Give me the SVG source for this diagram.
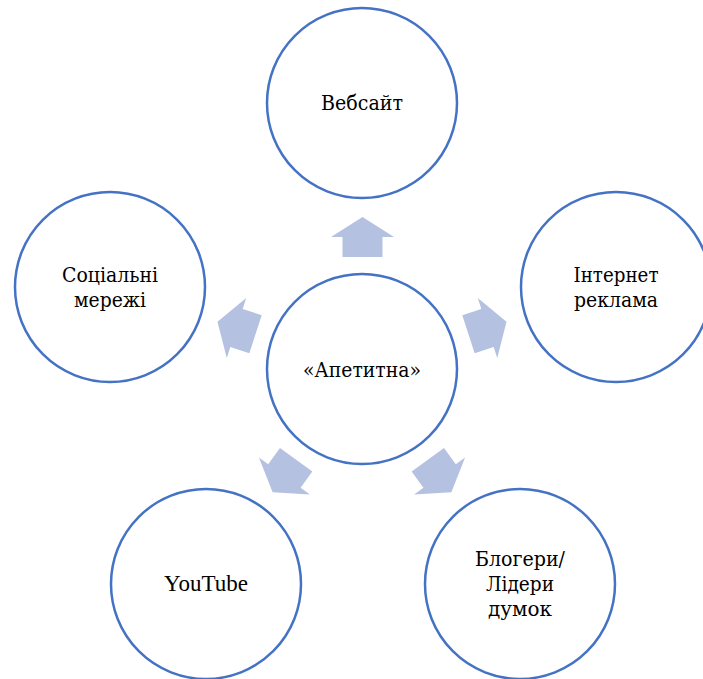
<svg xmlns="http://www.w3.org/2000/svg" width="703" height="679" viewBox="0 0 703 679">
  <defs>
    <style>
      .node circle { fill: #FFFFFF; stroke: #4472C4; stroke-width: 2.5; }
      .node text { font-family: "DejaVu Serif", "Noto Serif", "Liberation Serif", serif; font-size: 20px; fill: #000000; text-anchor: middle; }
      .node text.latin { font-family: "Liberation Serif", serif; font-size: 23px; }
      .arrow { fill: #B4C1E1; }
    </style>
    <!-- block arrow pointing along +x, centred on the origin -->
    <polygon id="blockArrow" points="-20,-20 0,-20 0,-31.5 20,0 0,31.5 0,20 -20,20"/>
  </defs>
  <rect width="703" height="679" fill="#FFFFFF"/>

  <g id="connectors">
    <use href="#blockArrow" class="arrow" transform="translate(362.5,237) rotate(-90)"/>
    <use href="#blockArrow" class="arrow" transform="translate(487.5,328) rotate(-18)"/>
    <use href="#blockArrow" class="arrow" transform="translate(439.6,476) rotate(54)"/>
    <use href="#blockArrow" class="arrow" transform="translate(284.4,476) rotate(126)"/>
    <use href="#blockArrow" class="arrow" transform="translate(236.5,328) rotate(198)"/>
  </g>

  <g id="node-center" class="node">
    <circle cx="362" cy="369" r="95"/>
    <text x="362" y="377" textLength="118" lengthAdjust="spacingAndGlyphs">«Апетитна»</text>
  </g>

  <g id="node-website" class="node">
    <circle cx="362" cy="103" r="95"/>
    <text x="362" y="110" textLength="82" lengthAdjust="spacingAndGlyphs">Вебсайт</text>
  </g>

  <g id="node-internet-ads" class="node">
    <circle cx="616" cy="287" r="95"/>
    <text x="616" y="282" textLength="85" lengthAdjust="spacingAndGlyphs">Інтернет</text>
    <text x="616" y="307" textLength="84" lengthAdjust="spacingAndGlyphs">реклама</text>
  </g>

  <g id="node-bloggers" class="node">
    <circle cx="520" cy="584" r="95"/>
    <text x="520" y="566" textLength="90" lengthAdjust="spacingAndGlyphs">Блогери/</text>
    <text x="520" y="591" textLength="68" lengthAdjust="spacingAndGlyphs">Лідери</text>
    <text x="520" y="616" textLength="64" lengthAdjust="spacingAndGlyphs">думок</text>
  </g>

  <g id="node-youtube" class="node">
    <circle cx="206" cy="584" r="95"/>
    <text class="latin" x="206" y="591">YouTube</text>
  </g>

  <g id="node-social" class="node">
    <circle cx="110" cy="287" r="95"/>
    <text x="110" y="282" textLength="96" lengthAdjust="spacingAndGlyphs">Соціальні</text>
    <text x="110" y="307" textLength="72" lengthAdjust="spacingAndGlyphs">мережі</text>
  </g>
</svg>
